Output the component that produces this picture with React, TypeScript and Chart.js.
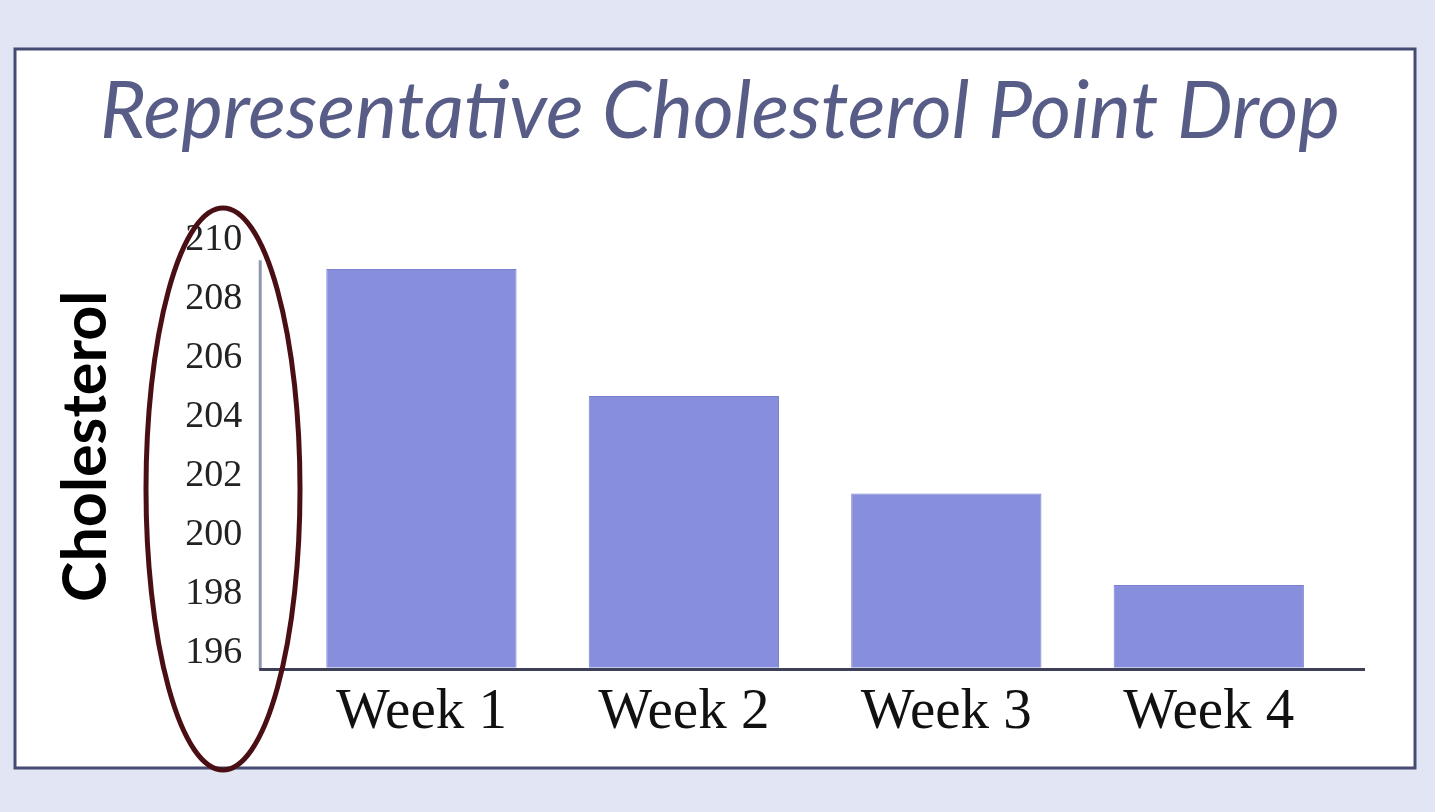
import React, { useEffect, useRef } from 'react';
import { Chart, registerables } from 'chart.js';

Chart.register(...registerables);

const TITLE = 'Representative Cholesterol Point Drop';
const Y_TITLE = 'Cholesterol';
const CATEGORIES = ['Week 1', 'Week 2', 'Week 3', 'Week 4'];
const VALUES = [209.0, 204.7, 201.4, 198.3];
const Y_TICKS = [196, 198, 200, 202, 204, 206, 208, 210];
const Y_MIN = 195.5;
const Y_MAX = 210.5;
const Y_LINE_TOP = 209.3;

const W = 1435;
const H = 812;

const framePlugin = {
  id: 'frame',
  beforeDraw(chart: any) {
    const ctx = chart.ctx;
    ctx.save();
    ctx.fillStyle = '#e2e5f3';
    ctx.fillRect(0, 0, chart.width, chart.height);
    ctx.fillStyle = '#ffffff';
    ctx.fillRect(15, 49, 1400, 719);
    ctx.strokeStyle = '#464b72';
    ctx.lineWidth = 3;
    ctx.strokeRect(15, 49, 1400, 719);
    ctx.restore();
  },
};

const axesPlugin = {
  id: 'axesLines',
  afterDatasetsDraw(chart: any) {
    const { ctx, chartArea, scales } = chart;
    const y = scales.y;
    const x0 = chartArea.left - 30;
    ctx.save();
    ctx.strokeStyle = '#8e97ae';
    ctx.lineWidth = 3;
    ctx.beginPath();
    ctx.moveTo(x0, y.getPixelForValue(Y_LINE_TOP));
    ctx.lineTo(x0, chartArea.bottom + 2);
    ctx.stroke();
    ctx.strokeStyle = '#3d4056';
    ctx.beginPath();
    ctx.moveTo(x0 - 1, chartArea.bottom + 2);
    ctx.lineTo(chartArea.right + 25, chartArea.bottom + 2);
    ctx.stroke();
    ctx.restore();
  },
};

const ellipsePlugin = {
  id: 'ellipseMark',
  afterDraw(chart: any) {
    const ctx = chart.ctx;
    ctx.save();
    ctx.strokeStyle = '#4a0f14';
    ctx.lineWidth = 5;
    ctx.beginPath();
    ctx.ellipse(223, 489, 77, 281, 0, 0, Math.PI * 2);
    ctx.stroke();
    ctx.restore();
  },
};

export default function App() {
  const ref = useRef<HTMLCanvasElement | null>(null);

  useEffect(() => {
    if (!ref.current) return;
    const chart = new Chart(ref.current, {
      type: 'bar',
      data: {
        labels: CATEGORIES,
        datasets: [
          {
            data: VALUES,
            backgroundColor: '#878edc',
            borderColor: '#7a80cf',
            borderWidth: 1,
            barPercentage: 0.725,
            categoryPercentage: 1,
          },
        ],
      },
      options: {
        responsive: false,
        animation: false,
        layout: { padding: { left: 100, right: 95, top: 0, bottom: 54 } },
        plugins: {
          legend: { display: false },
          tooltip: { enabled: false },
          title: {
            display: true,
            text: TITLE,
            color: '#585d87',
            font: { family: 'Lato', style: 'italic', size: 79, weight: 'normal' },
            padding: { top: 65, bottom: 65 },
          },
        },
        scales: {
          x: {
            grid: { display: false, drawTicks: false },
            border: { display: false },
            ticks: {
              color: '#111111',
              font: { family: 'Liberation Serif', size: 57 },
              padding: 11,
            },
          },
          y: {
            min: Y_MIN,
            max: Y_MAX,
            afterBuildTicks: (s: any) => {
              s.ticks = Y_TICKS.map((v) => ({ value: v }));
            },
            grid: { display: false, drawTicks: false },
            border: { display: false },
            ticks: {
              color: '#222222',
              font: { family: 'Liberation Serif', size: 38 },
              padding: 48,
            },
            title: {
              display: true,
              text: Y_TITLE,
              color: '#000000',
              font: { family: 'Lato', weight: 'bold', size: 61 },
              padding: { top: -50, bottom: 14 },
            },
          },
        },
      },
      plugins: [framePlugin, axesPlugin, ellipsePlugin],
    });
    return () => chart.destroy();
  }, []);

  return (
    <div style={{ position: 'fixed', left: 0, top: 0, width: W, height: H }}>
      <canvas ref={ref} width={W} height={H} style={{ display: 'block', width: W, height: H }} />
    </div>
  );
}
